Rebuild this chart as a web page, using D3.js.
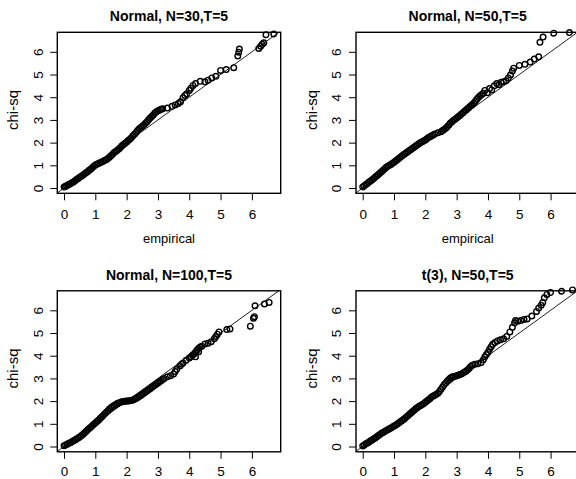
<html>
<head>
<meta charset="utf-8">
<script src="https://d3js.org/d3.v7.min.js"></script>
<style>
  body { margin: 0; background: #fff; }
  text { font-family: "Liberation Sans", Arial, sans-serif; fill: #000; }
</style>
</head>
<body>
<svg id="qq" width="576" height="479"></svg>
<script>
var titles = ["Normal, N=30,T=5", "Normal, N=50,T=5", "Normal, N=100,T=5", "t(3), N=50,T=5"];
var tickVals = [0, 1, 2, 3, 4, 5, 6];
var xLabel = "empirical", yLabel = "chi-sq";

// [empirical, chi-sq] pairs
var normal30 = [[0.00,0.04],[0.04,0.07],[0.08,0.10],[0.12,0.13],[0.16,0.15],[0.20,0.19],[0.25,0.23],[0.30,0.27],[0.35,0.32],[0.40,0.37],[0.45,0.42],[0.50,0.47],[0.55,0.52],[0.60,0.56],[0.65,0.62],[0.70,0.67],[0.75,0.72],[0.80,0.78],[0.85,0.83],[0.90,0.89],[0.95,0.96],[1.00,1.01],[1.05,1.05],[1.10,1.08],[1.15,1.11],[1.20,1.15],[1.25,1.18],[1.30,1.22],[1.35,1.25],[1.40,1.30],[1.45,1.36],[1.50,1.42],[1.55,1.49],[1.60,1.56],[1.65,1.61],[1.70,1.66],[1.75,1.72],[1.80,1.79],[1.85,1.86],[1.90,1.92],[1.95,1.97],[2.00,2.03],[2.05,2.09],[2.10,2.15],[2.15,2.21],[2.20,2.30],[2.25,2.37],[2.30,2.45],[2.35,2.53],[2.40,2.61],[2.45,2.67],[2.50,2.72],[2.55,2.78],[2.60,2.85],[2.65,2.92],[2.70,3.01],[2.75,3.08],[2.80,3.15],[2.85,3.22],[2.90,3.30],[2.95,3.36],[3.00,3.40],[3.05,3.44],[3.10,3.47],[3.15,3.49],
  [3.30,3.52],[3.45,3.60],[3.55,3.66],[3.65,3.72],[3.72,3.80],[3.80,3.98],[3.86,4.08],[3.92,4.15],[4.00,4.30],[4.05,4.40],[4.12,4.52],[4.20,4.60],[4.35,4.70],[4.50,4.68],[4.60,4.75],[4.72,4.85],[4.85,4.92],[5.00,5.18],[5.18,5.22],[5.42,5.30],[5.55,5.82],[5.58,5.98],[5.60,6.12],[6.22,6.15],[6.28,6.25],[6.33,6.33],[6.38,6.40],[6.45,6.75],[6.70,6.78]];

var normal50 = [[0.00,0.05],[0.05,0.10],[0.10,0.15],[0.15,0.20],[0.20,0.26],[0.25,0.31],[0.30,0.36],[0.35,0.42],[0.40,0.48],[0.45,0.54],[0.50,0.60],[0.55,0.66],[0.60,0.72],[0.65,0.78],[0.70,0.85],[0.75,0.91],[0.80,0.96],[0.85,1.00],[0.90,1.04],[0.95,1.09],[1.00,1.14],[1.05,1.19],[1.10,1.24],[1.15,1.30],[1.20,1.36],[1.25,1.41],[1.30,1.46],[1.35,1.51],[1.40,1.56],[1.45,1.61],[1.50,1.66],[1.55,1.71],[1.60,1.76],[1.65,1.81],[1.70,1.86],[1.75,1.91],[1.80,1.96],[1.85,2.00],[1.90,2.04],[1.95,2.08],[2.00,2.12],[2.05,2.17],[2.10,2.22],[2.15,2.26],[2.20,2.30],[2.25,2.34],[2.30,2.38],[2.40,2.43],[2.50,2.48],[2.55,2.53],[2.60,2.58],[2.65,2.63],[2.70,2.70],[2.75,2.78],[2.80,2.86],[2.85,2.92],[2.90,2.98],[2.95,3.03],[3.00,3.08],[3.05,3.14],[3.10,3.20],[3.15,3.26],[3.20,3.32],[3.25,3.38],[3.30,3.44],[3.35,3.50],[3.40,3.56],[3.45,3.62],[3.50,3.68],[3.55,3.74],[3.60,3.82],[3.65,3.92],[3.70,4.00],[3.75,4.06],[3.80,4.12],[3.85,4.18],
  [3.90,4.30],[3.98,4.20],[4.05,4.38],[4.12,4.32],[4.20,4.50],[4.28,4.60],[4.35,4.55],[4.42,4.66],[4.50,4.68],[4.58,4.72],[4.65,4.85],[4.72,4.98],[4.78,5.15],[4.82,5.28],[5.00,5.40],[5.18,5.45],[5.35,5.55],[5.48,5.68],[5.62,5.78],[5.66,6.42],[5.76,6.65],[6.10,6.82],[6.60,6.85]];

var normal100 = [[0.00,0.03],[0.05,0.07],[0.10,0.10],[0.15,0.14],[0.20,0.17],[0.25,0.21],[0.30,0.25],[0.35,0.29],[0.40,0.33],[0.45,0.38],[0.50,0.42],[0.55,0.47],[0.60,0.53],[0.65,0.59],[0.70,0.66],[0.75,0.73],[0.80,0.79],[0.85,0.85],[0.90,0.91],[0.95,0.98],[1.00,1.04],[1.05,1.10],[1.10,1.16],[1.15,1.23],[1.20,1.30],[1.25,1.37],[1.30,1.44],[1.35,1.51],[1.40,1.58],[1.45,1.65],[1.50,1.71],[1.55,1.76],[1.60,1.81],[1.65,1.85],[1.70,1.89],[1.75,1.92],[1.80,1.95],[1.85,1.97],[1.90,1.98],[1.95,1.99],[2.00,2.00],[2.05,2.01],[2.10,2.02],[2.15,2.03],[2.20,2.05],[2.25,2.08],[2.30,2.12],[2.35,2.16],[2.40,2.20],[2.45,2.25],[2.50,2.30],[2.55,2.35],[2.60,2.40],[2.65,2.45],[2.70,2.50],[2.75,2.55],[2.80,2.60],[2.85,2.65],[2.90,2.70],[2.95,2.75],[3.00,2.80],[3.05,2.85],[3.10,2.90],[3.15,2.95],[3.20,3.00],[3.30,3.07],[3.40,3.12],[3.50,3.20],[3.60,3.40],[3.70,3.55],[3.80,3.68],[3.90,3.80],[4.00,3.90],[4.05,3.96],[4.10,4.02],[4.15,4.08],[4.20,4.15],[4.25,4.25],[4.30,4.33],[4.35,4.38],[4.40,4.42],
  [3.55,3.30],[3.75,3.62],[4.20,3.95],[4.30,4.18],[4.50,4.52],[4.60,4.55],[4.70,4.62],[4.80,4.75],[4.85,4.85],[4.90,4.95],[4.95,5.05],[5.20,5.15],[5.30,5.18],[5.95,5.30],[6.05,5.65],[6.08,5.72],[6.10,6.20],[6.40,6.28],[6.55,6.35]];

var t3n50 = [[0.00,0.02],[0.05,0.07],[0.10,0.12],[0.15,0.16],[0.20,0.20],[0.25,0.25],[0.30,0.29],[0.35,0.34],[0.40,0.38],[0.45,0.43],[0.50,0.48],[0.55,0.53],[0.60,0.58],[0.65,0.62],[0.70,0.66],[0.75,0.70],[0.80,0.74],[0.85,0.78],[0.90,0.82],[0.95,0.86],[1.00,0.90],[1.05,0.94],[1.10,0.99],[1.15,1.04],[1.20,1.09],[1.25,1.14],[1.30,1.19],[1.35,1.25],[1.40,1.31],[1.45,1.37],[1.50,1.43],[1.55,1.49],[1.60,1.55],[1.65,1.61],[1.70,1.67],[1.75,1.72],[1.80,1.77],[1.85,1.81],[1.90,1.85],[1.95,1.90],[2.00,1.95],[2.05,2.00],[2.10,2.06],[2.15,2.12],[2.20,2.18],[2.25,2.22],[2.30,2.26],[2.35,2.30],[2.40,2.35],[2.45,2.42],[2.50,2.52],[2.55,2.62],[2.60,2.72],[2.65,2.80],[2.70,2.88],[2.75,2.95],[2.80,3.02],[2.85,3.06],[2.90,3.08],[2.95,3.10],[3.00,3.12],[3.05,3.14],[3.10,3.17],[3.15,3.20],[3.20,3.24],[3.25,3.28],[3.30,3.32],[3.35,3.38],[3.40,3.45],[3.45,3.52],[3.50,3.58],
  [3.58,3.62],[3.68,3.65],[3.78,3.70],[3.85,3.82],[3.90,3.95],[3.95,4.05],[4.00,4.15],[4.05,4.28],[4.10,4.40],[4.15,4.50],[4.22,4.58],[4.30,4.65],[4.40,4.70],[4.50,4.75],[4.60,4.85],[4.70,5.05],[4.78,5.25],[4.85,5.45],[4.88,5.55],[4.95,5.52],[5.05,5.55],[5.15,5.60],[5.25,5.62],[5.40,5.75],[5.55,5.95],[5.62,6.10],[5.70,6.22],[5.75,6.35],[5.80,6.55],[5.88,6.70],[6.00,6.78],[6.35,6.84],[6.70,6.90]];

var series = [normal30, normal50, normal100, t3n50];

var svg = d3.select("#qq");
var W = 223.4, H = 161;
var colX = [57.3, 356], rowY = [32.3, 290.8];

series.forEach(function(pts, i) {
  var row = Math.floor(i / 2);
  var ox = colX[i % 2], oy = rowY[row];
  var x = d3.scaleLinear().domain([-0.214, 6.92]).range([0, W]);
  var y = d3.scaleLinear().domain([-0.233, 6.86]).range([H, 0]);
  var g = svg.append("g").attr("transform", "translate(" + ox + "," + oy + ")");

  g.append("clipPath").attr("id", "clip" + i)
    .append("rect").attr("width", W).attr("height", H);

  // reference line y = x
  g.append("line").attr("clip-path", "url(#clip" + i + ")")
    .attr("x1", x(-1)).attr("y1", y(-1)).attr("x2", x(8)).attr("y2", y(8))
    .attr("stroke", "#222").attr("stroke-width", 1);

  g.selectAll("circle").data(pts).enter().append("circle")
    .attr("cx", d => x(d[0])).attr("cy", d => y(d[1]))
    .attr("r", 2.8).attr("fill", "none")
    .attr("stroke", "#000").attr("stroke-width", 1.4);

  g.append("rect").attr("width", W).attr("height", H)
    .attr("fill", "none").attr("stroke", "#000").attr("stroke-width", 1.4);

  var ax = g.append("g").attr("transform", "translate(0," + H + ")")
    .call(d3.axisBottom(x).tickValues(tickVals).tickSize(7).tickFormat(d3.format("d")));
  ax.select(".domain").remove();
  ax.selectAll("line").attr("stroke", "#000");
  ax.selectAll("text").attr("y", row ? 24.6 : 26).attr("dy", 0)
    .attr("font-size", 13.5).attr("font-family", null);

  var ay = g.append("g")
    .call(d3.axisLeft(y).tickValues(tickVals).tickSize(7).tickFormat(d3.format("d")));
  ay.select(".domain").remove();
  ay.selectAll("line").attr("stroke", "#000");
  ay.selectAll("text").attr("x", 0).attr("y", -14.8).attr("dy", 0)
    .attr("transform", "rotate(-90)").attr("text-anchor", "middle")
    .attr("font-size", 13.5).attr("font-family", null);

  g.append("text").attr("x", W / 2).attr("y", -11.3)
    .attr("text-anchor", "middle").attr("font-weight", "bold").attr("font-size", 14)
    .text(titles[i]);

  // the bottom row's x label falls below the picture's lower edge
  if (row === 0) {
    g.append("text").attr("x", W / 2).attr("y", 210.7)
      .attr("text-anchor", "middle").attr("font-size", 13).text(xLabel);
  }

  g.append("text").attr("transform", "translate(-39.3,77.7) rotate(-90)")
    .attr("text-anchor", "middle").attr("font-size", 15).text(yLabel);
});
</script>
</body>
</html>
